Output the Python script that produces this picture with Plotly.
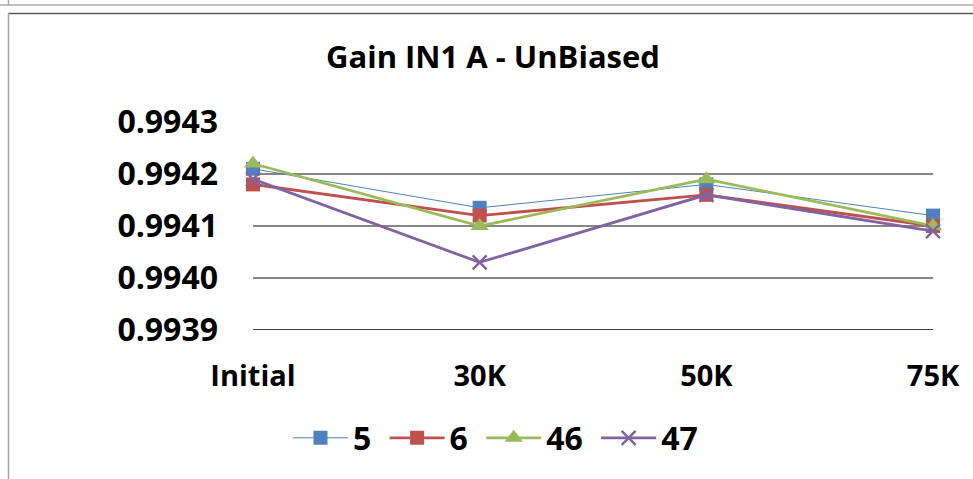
import plotly.graph_objects as go

categories = ["Initial", "30K", "50K", "75K"]
s5 = [0.99421, 0.994135, 0.99418, 0.99412]
s6 = [0.99418, 0.99412, 0.99416, 0.99410]
s46 = [0.99422, 0.99410, 0.99419, 0.99410]
s47 = [0.99419, 0.99403, 0.99416, 0.99409]
series_names = ["5", "6", "46", "47"]
tick_vals = [0.9939, 0.9940, 0.9941, 0.9942, 0.9943]
tick_text = ["0.9939", "0.9940", "0.9941", "0.9942", "0.9943"]

W, H = 973, 479
L, R, T, B = 253, 40, 122, 149
FONT = "Open Sans"

styles = [
    dict(color="#4F81BD", width=1, symbol="square", size=14),
    dict(color="#C0504D", width=2.8, symbol="square", size=14),
    dict(color="#9BBB59", width=2.8, symbol="triangle-up", size=16),
    dict(color="#8064A2", width=2.8, symbol="x-thin", size=14),
]

fig = go.Figure()
xs = list(range(len(categories)))
for name, vals, st in zip(series_names, [s5, s6, s46, s47], styles):
    marker = dict(symbol=st["symbol"], size=st["size"], color=st["color"])
    if st["symbol"] == "x-thin":
        marker["line"] = dict(color=st["color"], width=2.5)
    fig.add_trace(go.Scatter(
        x=xs, y=vals, name=f"<b>{name}</b>&nbsp;", mode="lines+markers",
        line=dict(color=st["color"], width=st["width"]),
        marker=marker, cliponaxis=False,
    ))

pw = W - L - R
ph = H - T - B
def px_to_paper_x(px):
    return (px - L) / pw
def px_to_paper_y(py):
    return (H - B - py) / ph

shapes = [
    dict(type="line", xref="paper", yref="paper", x0=px_to_paper_x(0), x1=px_to_paper_x(W),
         y0=px_to_paper_y(5), y1=px_to_paper_y(5), line=dict(color="#BFBFBF", width=2)),
    dict(type="line", xref="paper", yref="paper", x0=px_to_paper_x(8.5), x1=px_to_paper_x(8.5),
         y0=px_to_paper_y(0), y1=px_to_paper_y(5), line=dict(color="#A6A6A6", width=1.5)),
    dict(type="line", xref="paper", yref="paper", x0=px_to_paper_x(8.5), x1=px_to_paper_x(W),
         y0=px_to_paper_y(13.5), y1=px_to_paper_y(13.5), line=dict(color="#595959", width=1.5)),
    dict(type="line", xref="paper", yref="paper", x0=px_to_paper_x(8.5), x1=px_to_paper_x(8.5),
         y0=px_to_paper_y(13.5), y1=px_to_paper_y(H), line=dict(color="#A6A6A6", width=1.5)),
]

fig.update_layout(
    width=W, height=H,
    margin=dict(l=L, r=R, t=T, b=B, pad=0),
    paper_bgcolor="white", plot_bgcolor="white",
    font=dict(family=FONT, color="black"),
    title=dict(text="<b>Gain IN1 A - UnBiased</b>", x=493 / W, xanchor="center",
               xref="container", y=1 - 57 / H, yanchor="middle",
               font=dict(size=31, family=FONT, color="black")),
    xaxis=dict(range=[0, 3], tickmode="array", tickvals=xs, ticktext=[f"<b>{c}</b>" for c in categories],
               showgrid=False, zeroline=False, showline=False, ticks="",
               tickfont=dict(size=29, family=FONT, color="black"), ticklabelstandoff=26),
    yaxis=dict(range=[0.9939, 0.9943], tickmode="array", tickvals=tick_vals,
               ticktext=[f"<b>{t}</b>" for t in tick_text],
               showgrid=True, gridcolor="#868686", gridwidth=2, zeroline=False,
               showline=False, ticks="",
               tickfont=dict(size=32, family=FONT, color="black"), ticklabelstandoff=34),
    legend=dict(orientation="h", x=px_to_paper_x(500), xanchor="center", y=px_to_paper_y(438),
                yanchor="middle", font=dict(size=32, family=FONT, color="black"), itemwidth=55,
                bgcolor="rgba(0,0,0,0)"),
    shapes=shapes,
)
fig.add_shape(type="line", xref="paper", yref="y", x0=0, x1=1, y0=tick_vals[0], y1=tick_vals[0],
              line=dict(color="black", width=1.5), layer="below")

fig.write_html("out.html", config={"displayModeBar": False},
               post_script="document.body.style.margin='0';document.body.style.overflow='hidden';")
